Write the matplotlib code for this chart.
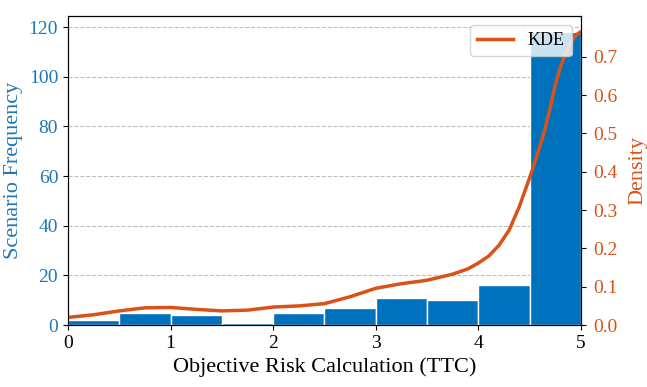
import numpy as np
import matplotlib.pyplot as plt

plt.rcParams['font.family'] = ['Liberation Serif', 'DejaVu Serif']

# histogram: bin edges and counts
bin_edges = [0.0, 0.5, 1.0, 1.5, 2.0, 2.5, 3.0, 3.5, 4.0, 4.5, 5.0]
counts = [2, 5, 4, 1, 5, 7, 11, 10, 16, 118]

# KDE curve (density axis)
kde_x = [0.0, 0.25, 0.5, 0.75, 1.0, 1.25, 1.5, 1.75, 2.0, 2.25, 2.5, 2.75,
         3.0, 3.25, 3.5, 3.75, 3.9, 4.0, 4.1, 4.2, 4.3, 4.4, 4.5, 4.55,
         4.6, 4.65, 4.7, 4.75, 4.8, 4.85, 4.9, 4.95, 5.0]
kde_y = [0.020, 0.027, 0.037, 0.045, 0.046, 0.041, 0.037, 0.039, 0.047,
         0.050, 0.056, 0.074, 0.096, 0.108, 0.117, 0.133, 0.147, 0.162,
         0.180, 0.208, 0.248, 0.310, 0.385, 0.425, 0.467, 0.512, 0.568,
         0.628, 0.674, 0.708, 0.736, 0.757, 0.766]

blue = '#0072BD'
label_blue = '#1f77b4'
orange = '#D95319'

fig, ax = plt.subplots(figsize=(6.47, 3.87), dpi=100)
fig.subplots_adjust(left=0.105, right=0.898, top=0.959, bottom=0.160)

centers = [(a + b) / 2 for a, b in zip(bin_edges[:-1], bin_edges[1:])]
ax.bar(centers, counts, width=0.5, color=blue, edgecolor='white',
       linewidth=1.0, zorder=2)
ax.set_xlim(0, 5)
ax.set_ylim(0, 124.5)
ax.set_yticks([0, 20, 40, 60, 80, 100, 120])
ax.grid(axis='y', linestyle='--', color='#b0b0b0', alpha=0.8, zorder=0)
ax.set_axisbelow(True)
ax.set_xlabel('Objective Risk Calculation (TTC)', fontsize=16)
ax.set_ylabel('Scenario Frequency', fontsize=16, color=label_blue)
ax.tick_params(axis='y', labelcolor=label_blue, labelsize=14)
ax.tick_params(axis='x', labelsize=14)

ax2 = ax.twinx()
ax2.plot(kde_x, kde_y, color=orange, linewidth=2.5, label='KDE')
ax2.set_ylim(0, 0.807)
ax2.set_yticks([0.0, 0.1, 0.2, 0.3, 0.4, 0.5, 0.6, 0.7])
ax2.set_ylabel('Density', fontsize=16, color=orange, labelpad=8)
ax2.tick_params(axis='y', labelcolor=orange, labelsize=14, pad=5)
ax2.legend(loc='upper right', fontsize=13, framealpha=0.8)

plt.savefig('out.png', dpi=100)
